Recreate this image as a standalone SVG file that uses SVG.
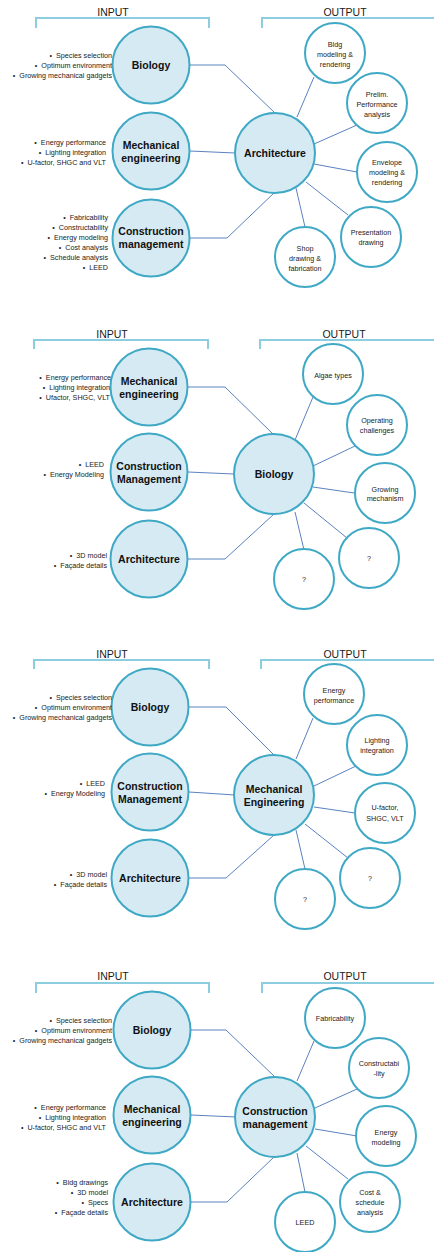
<svg xmlns="http://www.w3.org/2000/svg" width="434" height="1252" viewBox="0 0 434 1252">
<style>
.bg{fill:#ffffff}
.hdr{font-family:"Liberation Sans",Arial,sans-serif;font-size:10.5px;fill:#1a1a1a;text-anchor:middle;dominant-baseline:central}
.brk{fill:none;stroke:#8ccde0;stroke-width:2}
.main{fill:#d5eaf2;stroke:#3fa9c5;stroke-width:2}
.out{fill:#ffffff;stroke:#3fa9c5;stroke-width:2}
.lbl{font-family:"Liberation Sans",Arial,sans-serif;font-size:10.5px;font-weight:bold;fill:#111;text-anchor:middle;dominant-baseline:central}
.ot{font-family:"Liberation Sans",Arial,sans-serif;font-size:7.2px;fill:#222;text-anchor:middle;dominant-baseline:central}
.bl{font-family:"Liberation Sans",Arial,sans-serif;font-size:7.2px;fill:#222;text-anchor:end;dominant-baseline:central}
.con{fill:none;stroke:#5a82c0;stroke-width:1}
</style>
<rect class="bg" x="0" y="0" width="434" height="1252"/>

<!-- PANEL 1 -->
<g id="panel1">
  <g id="p1-headers">
    <text class="hdr" x="113" y="12">INPUT</text>
    <path class="brk" d="M36,28 V18 H209 V28"/>
    <text class="hdr" x="345" y="12">OUTPUT</text>
    <path class="brk" d="M262,28 V18 H436"/>
  </g>
  <g id="p1-connectors">
    <path class="con" d="M190,65 H225 L275,113"/>
    <path class="con" d="M190,151 L235,153"/>
    <path class="con" d="M190,238 H227 L274,193"/>
    <path class="con" d="M297,117 L314,77"/>
    <path class="con" d="M314,144 L357,125"/>
    <path class="con" d="M314,164 L357,172"/>
    <path class="con" d="M306,182 L348,215"/>
    <path class="con" d="M296,188 L305,227"/>
  </g>
  <g id="p1-biology">
    <circle class="main" cx="151" cy="65" r="38.5"/>
    <text class="lbl" x="151" y="65">Biology</text>
    <text class="bl" x="112" y="55">•&#160;&#160;Species selection</text>
    <text class="bl" x="112" y="65">•&#160;&#160;Optimum environment</text>
    <text class="bl" x="112" y="75">•&#160;&#160;Growing mechanical gadgets</text>
  </g>
  <g id="p1-mech">
    <circle class="main" cx="151" cy="151" r="38.5"/>
    <text class="lbl" x="151" y="144.5">Mechanical</text>
    <text class="lbl" x="151" y="157.5">engineering</text>
    <text class="bl" x="106" y="142">•&#160;&#160;Energy performance</text>
    <text class="bl" x="106" y="152">•&#160;&#160;Lighting integration</text>
    <text class="bl" x="106" y="162">•&#160;&#160;U-factor, SHGC and VLT</text>
  </g>
  <g id="p1-cm">
    <circle class="main" cx="151" cy="238" r="38.5"/>
    <text class="lbl" x="151" y="231">Construction</text>
    <text class="lbl" x="151" y="244">management</text>
    <text class="bl" x="108" y="217">•&#160;&#160;Fabricability</text>
    <text class="bl" x="108" y="227">•&#160;&#160;Constructability</text>
    <text class="bl" x="108" y="237">•&#160;&#160;Energy modeling</text>
    <text class="bl" x="108" y="247">•&#160;&#160;Cost analysis</text>
    <text class="bl" x="108" y="257">•&#160;&#160;Schedule analysis</text>
    <text class="bl" x="108" y="267">•&#160;&#160;LEED</text>
  </g>
  <g id="p1-arch">
    <circle class="main" cx="275" cy="153" r="40"/>
    <text class="lbl" x="275" y="153">Architecture</text>
  </g>
  <g id="p1-o1">
    <circle class="out" cx="335" cy="53" r="30"/>
    <text class="ot" x="335" y="44">Bldg</text>
    <text class="ot" x="335" y="54">modeling &amp;</text>
    <text class="ot" x="335" y="64">rendering</text>
  </g>
  <g id="p1-o2">
    <circle class="out" cx="377" cy="103" r="30"/>
    <text class="ot" x="377" y="94">Prelim.</text>
    <text class="ot" x="377" y="104">Performance</text>
    <text class="ot" x="377" y="114">analysis</text>
  </g>
  <g id="p1-o3">
    <circle class="out" cx="387" cy="172" r="30"/>
    <text class="ot" x="387" y="162">Envelope</text>
    <text class="ot" x="387" y="172">modeling &amp;</text>
    <text class="ot" x="387" y="182">rendering</text>
  </g>
  <g id="p1-o4">
    <circle class="out" cx="371" cy="237" r="30"/>
    <text class="ot" x="371" y="232">Presentation</text>
    <text class="ot" x="371" y="242">drawing</text>
  </g>
  <g id="p1-o5">
    <circle class="out" cx="305" cy="257" r="30"/>
    <text class="ot" x="305" y="248">Shop</text>
    <text class="ot" x="305" y="258">drawing &amp;</text>
    <text class="ot" x="305" y="268">fabrication</text>
  </g>
</g>

<!-- PANEL 2 -->
<g id="panel2" transform="translate(0,321)">
  <g id="p2-headers">
    <text class="hdr" x="112" y="13">INPUT</text>
    <path class="brk" d="M34,28 V19 H208 V28"/>
    <text class="hdr" x="344" y="13">OUTPUT</text>
    <path class="brk" d="M260,28 V19 H436"/>
  </g>
  <g id="p2-connectors">
    <path class="con" d="M188,66 H225 L274,114"/>
    <path class="con" d="M188,151 L234,153"/>
    <path class="con" d="M188,238 H225 L274,193"/>
    <path class="con" d="M295,119 L313,76"/>
    <path class="con" d="M313,145 L355,125"/>
    <path class="con" d="M313,166 L354,172"/>
    <path class="con" d="M304,182 L347,217"/>
    <path class="con" d="M295,191 L304,229"/>
  </g>
  <g id="p2-mech">
    <circle class="main" cx="149" cy="66" r="38.5"/>
    <text class="lbl" x="149" y="59.5">Mechanical</text>
    <text class="lbl" x="149" y="72.5">engineering</text>
    <text class="bl" x="111" y="56">•&#160;&#160;Energy performance</text>
    <text class="bl" x="110" y="66">•&#160;&#160;Lighting integration</text>
    <text class="bl" x="110" y="76">•&#160;&#160;Ufactor, SHGC, VLT</text>
  </g>
  <g id="p2-cm">
    <circle class="main" cx="149" cy="151" r="38.5"/>
    <text class="lbl" x="149" y="144.5">Construction</text>
    <text class="lbl" x="149" y="157.5">Management</text>
    <text class="bl" x="104" y="143">•&#160;&#160;LEED</text>
    <text class="bl" x="104" y="153">•&#160;&#160;Energy Modeling</text>
  </g>
  <g id="p2-arch">
    <circle class="main" cx="149" cy="238" r="38.5"/>
    <text class="lbl" x="149" y="238">Architecture</text>
    <text class="bl" x="107" y="234">•&#160;&#160;3D model</text>
    <text class="bl" x="107" y="244">•&#160;&#160;Façade details</text>
  </g>
  <g id="p2-bio">
    <circle class="main" cx="274" cy="153" r="40"/>
    <text class="lbl" x="274" y="153">Biology</text>
  </g>
  <g id="p2-o1">
    <circle class="out" cx="333" cy="53" r="30"/>
    <text class="ot" x="333" y="54">Algae types</text>
  </g>
  <g id="p2-o2">
    <circle class="out" cx="377" cy="104" r="30"/>
    <text class="ot" x="377" y="99">Operating</text>
    <text class="ot" x="377" y="109">challenges</text>
  </g>
  <g id="p2-o3">
    <circle class="out" cx="385" cy="172" r="30"/>
    <text class="ot" x="385" y="168">Growing</text>
    <text class="ot" x="385" y="177">mechanism</text>
  </g>
  <g id="p2-o4">
    <circle class="out" cx="369" cy="237" r="30"/>
    <text class="ot" x="369" y="237">?</text>
  </g>
  <g id="p2-o5">
    <circle class="out" cx="304" cy="258" r="30"/>
    <text class="ot" x="304" y="258">?</text>
  </g>
</g>

<!-- PANEL 3 -->
<g id="panel3" transform="translate(0,642)">
  <g id="p3-headers">
    <text class="hdr" x="112" y="12">INPUT</text>
    <path class="brk" d="M34,27 V18 H209 V27"/>
    <text class="hdr" x="345" y="12">OUTPUT</text>
    <path class="brk" d="M261,27 V18 H436"/>
  </g>
  <g id="p3-connectors">
    <path class="con" d="M189,65 H226 L274,113"/>
    <path class="con" d="M189,150 L235,153"/>
    <path class="con" d="M189,236 H226 L274,193"/>
    <path class="con" d="M296,117 L313,76"/>
    <path class="con" d="M314,144 L356,124"/>
    <path class="con" d="M314,165 L355,171"/>
    <path class="con" d="M305,182 L348,216"/>
    <path class="con" d="M296,188 L305,227"/>
  </g>
  <g id="p3-bio">
    <circle class="main" cx="150" cy="65" r="38.5"/>
    <text class="lbl" x="150" y="65">Biology</text>
    <text class="bl" x="112" y="55">•&#160;&#160;Species selection</text>
    <text class="bl" x="112" y="65">•&#160;&#160;Optimum environment</text>
    <text class="bl" x="112" y="75">•&#160;&#160;Growing mechanical gadgets</text>
  </g>
  <g id="p3-cm">
    <circle class="main" cx="150" cy="150" r="38.5"/>
    <text class="lbl" x="150" y="143.5">Construction</text>
    <text class="lbl" x="150" y="156.5">Management</text>
    <text class="bl" x="105" y="141">•&#160;&#160;LEED</text>
    <text class="bl" x="105" y="151">•&#160;&#160;Energy Modeling</text>
  </g>
  <g id="p3-arch">
    <circle class="main" cx="150" cy="236" r="38.5"/>
    <text class="lbl" x="150" y="236">Architecture</text>
    <text class="bl" x="107" y="232">•&#160;&#160;3D model</text>
    <text class="bl" x="107" y="242">•&#160;&#160;Façade details</text>
  </g>
  <g id="p3-mech">
    <circle class="main" cx="274" cy="153" r="40"/>
    <text class="lbl" x="274" y="146.5">Mechanical</text>
    <text class="lbl" x="274" y="159.5">Engineering</text>
  </g>
  <g id="p3-o1">
    <circle class="out" cx="334" cy="52" r="30"/>
    <text class="ot" x="334" y="48">Energy</text>
    <text class="ot" x="334" y="58">performance</text>
  </g>
  <g id="p3-o2">
    <circle class="out" cx="377" cy="103" r="30"/>
    <text class="ot" x="377" y="98">Lighting</text>
    <text class="ot" x="377" y="108">integration</text>
  </g>
  <g id="p3-o3">
    <circle class="out" cx="385" cy="171" r="30"/>
    <text class="ot" x="385" y="165">U-factor,</text>
    <text class="ot" x="385" y="176">SHGC, VLT</text>
  </g>
  <g id="p3-o4">
    <circle class="out" cx="370" cy="236" r="30"/>
    <text class="ot" x="370" y="236">?</text>
  </g>
  <g id="p3-o5">
    <circle class="out" cx="305" cy="257" r="30"/>
    <text class="ot" x="305" y="257">?</text>
  </g>
</g>

<!-- PANEL 4 -->
<g id="panel4" transform="translate(0,964)">
  <g id="p4-headers">
    <text class="hdr" x="113" y="12">INPUT</text>
    <path class="brk" d="M36,29 V19 H209 V29"/>
    <text class="hdr" x="345" y="12">OUTPUT</text>
    <path class="brk" d="M262,29 V19 H436"/>
  </g>
  <g id="p4-connectors">
    <path class="con" d="M191,66 H226 L275,113"/>
    <path class="con" d="M191,151 L236,153"/>
    <path class="con" d="M191,238 H227 L274,193"/>
    <path class="con" d="M297,117 L314,77"/>
    <path class="con" d="M315,144 L357,125"/>
    <path class="con" d="M315,165 L357,172"/>
    <path class="con" d="M306,182 L348,215"/>
    <path class="con" d="M297,189 L305,228"/>
  </g>
  <g id="p4-bio">
    <circle class="main" cx="152" cy="66" r="38.5"/>
    <text class="lbl" x="152" y="66">Biology</text>
    <text class="bl" x="112" y="56">•&#160;&#160;Species selection</text>
    <text class="bl" x="112" y="66">•&#160;&#160;Optimum environment</text>
    <text class="bl" x="112" y="76">•&#160;&#160;Growing mechanical gadgets</text>
  </g>
  <g id="p4-mech">
    <circle class="main" cx="152" cy="151" r="38.5"/>
    <text class="lbl" x="152" y="144.5">Mechanical</text>
    <text class="lbl" x="152" y="157.5">engineering</text>
    <text class="bl" x="106" y="143">•&#160;&#160;Energy performance</text>
    <text class="bl" x="106" y="153">•&#160;&#160;Lighting integration</text>
    <text class="bl" x="106" y="163">•&#160;&#160;U-factor, SHGC and VLT</text>
  </g>
  <g id="p4-arch">
    <circle class="main" cx="152" cy="238" r="38.5"/>
    <text class="lbl" x="152" y="238">Architecture</text>
    <text class="bl" x="108" y="218">•&#160;&#160;Bldg drawings</text>
    <text class="bl" x="108" y="228">•&#160;&#160;3D model</text>
    <text class="bl" x="108" y="238">•&#160;&#160;Specs</text>
    <text class="bl" x="108" y="248">•&#160;&#160;Façade details</text>
  </g>
  <g id="p4-cm">
    <circle class="main" cx="275" cy="153" r="40"/>
    <text class="lbl" x="275" y="146.5">Construction</text>
    <text class="lbl" x="275" y="159.5">management</text>
  </g>
  <g id="p4-o1">
    <circle class="out" cx="335" cy="54" r="30"/>
    <text class="ot" x="335" y="54">Fabricability</text>
  </g>
  <g id="p4-o2">
    <circle class="out" cx="379" cy="104" r="30"/>
    <text class="ot" x="379" y="99">Constructabi</text>
    <text class="ot" x="379" y="109">-lity</text>
  </g>
  <g id="p4-o3">
    <circle class="out" cx="386" cy="172" r="30"/>
    <text class="ot" x="386" y="168">Energy</text>
    <text class="ot" x="386" y="178">modeling</text>
  </g>
  <g id="p4-o4">
    <circle class="out" cx="370" cy="238" r="30"/>
    <text class="ot" x="370" y="228">Cost &amp;</text>
    <text class="ot" x="370" y="238">schedule</text>
    <text class="ot" x="370" y="248">analysis</text>
  </g>
  <g id="p4-o5">
    <circle class="out" cx="305" cy="258" r="30"/>
    <text class="ot" x="305" y="258">LEED</text>
  </g>
</g>
</svg>
